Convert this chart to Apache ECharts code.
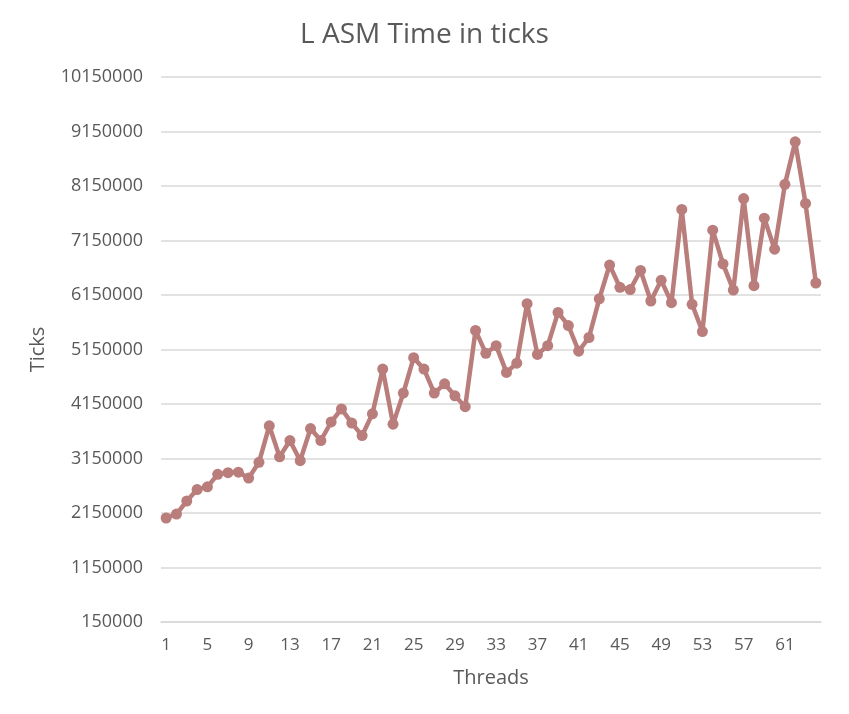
<!DOCTYPE html>
<html>
<head>
<meta charset="utf-8">
<script src="https://cdn.jsdelivr.net/npm/echarts@6/dist/echarts.min.js"></script>
<style>html,body{margin:0;padding:0;background:#fff}#c{width:849px;height:714px}</style>
</head>
<body>
<div id="c"></div>
<script>
const threads = Array.from({length: 64}, (_, i) => String(i + 1));
const ticks = [
  2058000, 2130000, 2370000, 2580000, 2630000, 2860000, 2890000, 2900000, 2790000, 3080000,
  3750000, 3180000, 3480000, 3110000, 3700000, 3480000, 3820000, 4060000, 3800000, 3570000,
  3970000, 4790000, 3780000, 4350000, 5000000, 4790000, 4350000, 4520000, 4300000, 4100000,
  5500000, 5080000, 5220000, 4730000, 4900000, 5990000, 5060000, 5220000, 5830000, 5590000,
  5120000, 5370000, 6080000, 6700000, 6290000, 6250000, 6600000, 6040000, 6420000, 6010000,
  7720000, 5980000, 5480000, 7340000, 6720000, 6240000, 7920000, 6320000, 7560000, 6990000,
  8180000, 8960000, 7830000, 6370000
];
const yMin = 150000, yMax = 10150000, yStep = 1000000;

const font = '"Open Sans", Lato, sans-serif';
const chart = echarts.init(document.getElementById('c'));
chart.setOption({
  animation: false,
  textStyle: {fontFamily: font},
  title: {
    text: 'L ASM Time in ticks',
    left: 'center', top: 16,
    textStyle: {fontSize: 28, fontWeight: 'normal', color: '#595959', fontFamily: font}
  },
  grid: {left: 161, right: 28, top: 77, bottom: 92},
  xAxis: {
    type: 'category',
    data: threads,
    boundaryGap: true,
    name: 'Threads',
    nameLocation: 'middle',
    nameGap: 46,
    nameTextStyle: {fontSize: 20, color: '#595959', fontFamily: font},
    axisLine: {lineStyle: {color: '#d9d9d9', width: 1.5}},
    axisTick: {show: false},
    axisLabel: {interval: 3, fontSize: 17, color: '#595959', margin: 15, fontFamily: font}
  },
  yAxis: {
    type: 'value',
    min: yMin, max: yMax, interval: yStep,
    name: 'Ticks',
    nameLocation: 'middle',
    nameGap: 113,
    nameTextStyle: {fontSize: 20, color: '#595959', fontFamily: font},
    axisLine: {show: false},
    axisTick: {show: false},
    axisLabel: {fontSize: 18, color: '#595959', margin: 18, fontFamily: font,
      formatter: v => String(v)},
    splitLine: {lineStyle: {color: '#d9d9d9', width: 1.5}}
  },
  series: [{
    type: 'line',
    data: ticks,
    symbol: 'circle',
    symbolSize: 11,
    showAllSymbol: true,
    lineStyle: {color: '#b97d7b', width: 4.5},
    itemStyle: {color: '#b97d7b'}
  }]
});
</script>
</body>
</html>
